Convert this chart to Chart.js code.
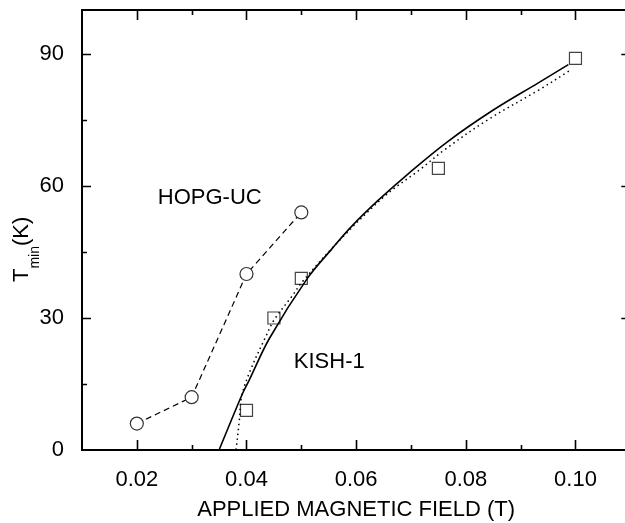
<!DOCTYPE html>
<html>
<head>
<meta charset="utf-8">
<script src="https://cdn.jsdelivr.net/npm/chart.js@4/dist/chart.umd.min.js"></script>
<style>
  html, body { margin: 0; padding: 0; background: #fff; }
  #wrap { width: 625px; height: 523px; overflow: hidden; }
</style>
</head>
<body>
<div id="wrap"><canvas id="tminChart" width="640" height="523"></canvas></div>
<script>
// measured points
const hopgField = [0.02, 0.03, 0.04, 0.05];
const hopgTmin = [6, 12, 40, 54];
const kishField = [0.04, 0.045, 0.05, 0.075, 0.10];
const kishTmin = [9, 30, 39, 64, 89];

// fit curves
const solidField = [0.0350, 0.0393, 0.0405, 0.0442, 0.0511, 0.0555, 0.0590, 0.0639, 0.0697, 0.0767, 0.0848, 0.0933, 0.0987];
const solidTmin = [0, 12.9, 15.9, 25.4, 39, 45.6, 50.6, 56.6, 63.0, 70.1, 77.1, 83.5, 87.6];
const dottedField = [0.0381, 0.0387, 0.0391, 0.0406, 0.0436, 0.0450, 0.0482, 0.0503, 0.0567, 0.0654, 0.0715, 0.0763, 0.0842, 0.0933, 0.0988];
const dottedTmin = [0, 6.8, 12.1, 17.8, 26.0, 29.5, 34.8, 38.4, 47.3, 57.9, 63.6, 68.4, 75.2, 81.8, 86.1];

// axes
const xTicks = [0.02, 0.04, 0.06, 0.08, 0.10];
const xMinorTicks = [0.03, 0.05, 0.07, 0.09];
const yTicks = [0, 30, 60, 90];
const yMinorTicks = [15, 45, 75];

const FONT = '"Liberation Sans", Arial, Helvetica, sans-serif';

const toXY = (xs, ys) => xs.map((x, i) => ({ x: x, y: ys[i] }));

// inward ticks on all four sides, frame, labels and y title
const framePlugin = {
    id: 'frame',
    afterDraw(chart) {
        const ctx = chart.ctx;
        const area = chart.chartArea;
        const xs = chart.scales.x, ys = chart.scales.y;
        ctx.save();
        ctx.strokeStyle = '#000';
        ctx.lineWidth = 2;
        ctx.beginPath();
        ctx.moveTo(area.left - 1, area.top);
        ctx.lineTo(area.right, area.top);
        ctx.lineTo(area.right, area.bottom);
        ctx.stroke();

        ctx.lineWidth = 1.6;
        ctx.beginPath();
        const xTick = (v, len) => {
            const px = Math.round(xs.getPixelForValue(v)) + 0.5;
            ctx.moveTo(px, area.bottom); ctx.lineTo(px, area.bottom - len);
            ctx.moveTo(px, area.top); ctx.lineTo(px, area.top + len);
        };
        const yTick = (v, len) => {
            const py = Math.round(ys.getPixelForValue(v)) + 0.5;
            ctx.moveTo(area.left, py); ctx.lineTo(area.left + len, py);
            ctx.moveTo(area.right, py); ctx.lineTo(area.right - len, py);
        };
        xTicks.forEach(v => xTick(v, 10));
        xMinorTicks.forEach(v => xTick(v, 5));
        yTicks.slice(1).forEach(v => yTick(v, 9));
        yMinorTicks.forEach(v => yTick(v, 5));
        ctx.stroke();

        // series labels
        ctx.fillStyle = '#000';
        ctx.font = '22px ' + FONT;
        ctx.textAlign = 'center';
        ctx.textBaseline = 'middle';
        ctx.fillText('HOPG-UC', xs.getPixelForValue(0.0333), ys.getPixelForValue(57.3));
        ctx.fillText('KISH-1', xs.getPixelForValue(0.0551), ys.getPixelForValue(20));

        // y title with subscript
        ctx.translate(28, 282);
        ctx.rotate(-Math.PI / 2);
        ctx.textAlign = 'left';
        ctx.textBaseline = 'alphabetic';
        ctx.font = '22px ' + FONT;
        ctx.fillText('T', 0, 0);
        let w = ctx.measureText('T').width;
        ctx.font = '14px ' + FONT;
        ctx.fillText('min', w, 11);
        w += ctx.measureText('min').width;
        ctx.font = '22px ' + FONT;
        ctx.fillText('(K)', w, 0);
        ctx.restore();
    }
};

new Chart(document.getElementById('tminChart'), {
    type: 'scatter',
    data: {
        datasets: [
            {
                label: 'fit solid',
                data: toXY(solidField, solidTmin),
                showLine: true,
                borderColor: '#000',
                borderWidth: 1.6,
                pointRadius: 0,
                tension: 0.35
            },
            {
                label: 'fit dotted',
                data: toXY(dottedField, dottedTmin),
                showLine: true,
                borderColor: '#000',
                borderWidth: 1.5,
                borderDash: [1.5, 3.5],
                pointRadius: 0,
                tension: 0.35
            },
            {
                label: 'HOPG-UC',
                data: toXY(hopgField, hopgTmin),
                showLine: true,
                borderColor: '#000',
                borderWidth: 1.2,
                borderDash: [6, 4],
                pointStyle: 'circle',
                pointRadius: 6.5,
                pointBorderColor: '#333',
                pointBackgroundColor: '#fff',
                pointBorderWidth: 1.2
            },
            {
                label: 'KISH-1',
                data: toXY(kishField, kishTmin),
                showLine: false,
                pointStyle: 'rect',
                pointRadius: 8.5,
                pointBorderColor: '#444',
                pointBackgroundColor: 'rgba(0,0,0,0)',
                pointBorderWidth: 1.2
            }
        ]
    },
    options: {
        responsive: false,
        animation: false,
        devicePixelRatio: 1,
        layout: { padding: { left: 0, right: 8, top: 10, bottom: 0 } },
        plugins: { legend: { display: false }, tooltip: { enabled: false } },
        scales: {
            x: {
                type: 'linear',
                min: 0.01,
                max: 0.11,
                afterFit: scale => {
                    scale.height = 73;
                    scale.paddingLeft = 0;
                    scale.paddingRight = 0;
                },
                afterBuildTicks: scale => { scale.ticks = xTicks.map(v => ({ value: v })); },
                grid: { display: false },
                border: { display: true, color: '#000', width: 2 },
                ticks: {
                    color: '#000',
                    font: { family: FONT, size: 22 },
                    padding: 9,
                    maxRotation: 0,
                    callback: v => Number(v).toFixed(2)
                },
                title: {
                    display: true,
                    text: 'APPLIED MAGNETIC FIELD (T)',
                    color: '#000',
                    font: { family: FONT, size: 22 },
                    padding: { top: 0, bottom: 0 }
                }
            },
            y: {
                type: 'linear',
                min: 0,
                max: 100,
                afterFit: scale => {
                    scale.width = 82;
                    scale.paddingTop = 0;
                    scale.paddingBottom = 0;
                },
                afterBuildTicks: scale => { scale.ticks = yTicks.map(v => ({ value: v })); },
                grid: { display: false },
                border: { display: true, color: '#000', width: 2 },
                ticks: {
                    color: '#000',
                    font: { family: FONT, size: 22 },
                    padding: 10,
                    callback: v => String(v)
                }
            }
        }
    },
    plugins: [framePlugin]
});
</script>
</body>
</html>
